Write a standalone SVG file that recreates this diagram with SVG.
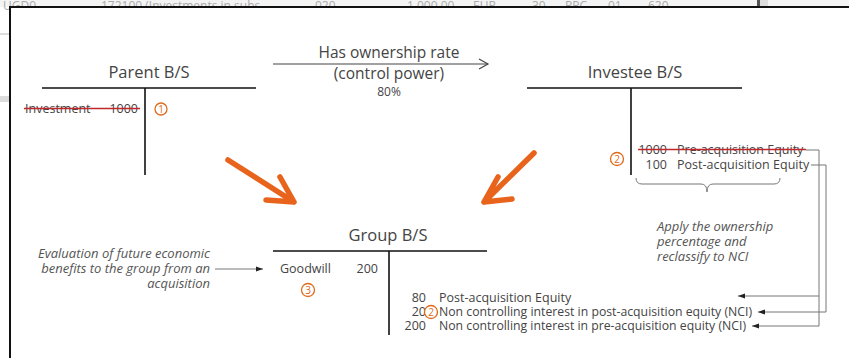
<svg xmlns="http://www.w3.org/2000/svg" width="849" height="358" viewBox="0 0 849 358">
<style>
.bg{font-family:"Open Sans","Liberation Sans",sans-serif;font-size:12px;fill:#aaa}
.t{font-family:"Open Sans","Liberation Sans",sans-serif;fill:#444}
.title{font-size:16.5px;text-anchor:middle}
.lbl{font-size:12.5px}
.it{font-family:"Open Sans","Liberation Sans",sans-serif;font-style:italic;font-size:13px;fill:#555}
.tl{stroke:#111;stroke-width:1.6;fill:none}
.cn{stroke:#777;stroke-width:1;fill:none}
.num{font-family:"Open Sans","Liberation Sans",sans-serif;font-size:10px;fill:#e06a1b;text-anchor:middle}
.circ{fill:#fff;stroke:#e06a1b;stroke-width:1.3}
.strike{stroke:#c0282d;stroke-width:1.6}
.big{stroke:#e8641c;stroke-width:5.5;fill:none;stroke-linecap:round;stroke-linejoin:round}
</style>
<defs>
<marker id="ah" markerWidth="8" markerHeight="8" refX="7" refY="4" orient="auto" markerUnits="userSpaceOnUse"><path d="M0,1.5 L7,4 L0,6.5 Z" fill="#222"/></marker>
<marker id="open" markerWidth="12" markerHeight="12" refX="10" refY="6" orient="auto" markerUnits="userSpaceOnUse"><path d="M1,1 L10,6 L1,11" fill="none" stroke="#444" stroke-width="1.2"/></marker>
</defs>
<rect width="849" height="358" fill="#fff"/>
<g id="background-screenshot">
<rect x="0" y="0" width="849" height="7" fill="#f4f4f4"/>
<text class="bg" x="3" y="10">UGD0</text>
<text class="bg" x="101" y="10">172100 (Investments in subs</text>
<text class="bg" x="315" y="10">020</text>
<text class="bg" x="407" y="10">1,000.00</text>
<text class="bg" x="473" y="10">EUR</text>
<text class="bg" x="532" y="10">30</text>
<text class="bg" x="565" y="10">PPC</text>
<text class="bg" x="608" y="10">01</text>
<text class="bg" x="648" y="10">620</text>
<rect x="757" y="0" width="3" height="7" fill="#555"/>
<rect x="760" y="0" width="8" height="7" fill="#ddd"/>
<rect x="0" y="33" width="10" height="2" fill="#ddd"/>
<rect x="0" y="96" width="10" height="6" fill="#ddd"/>
</g>
<rect x="10" y="7" width="845" height="360" fill="#fff" stroke="#111" stroke-width="2"/>

<g id="parent-bs">
<text class="t title" x="149" y="78">Parent B/S</text>
<line class="tl" x1="42" y1="88" x2="256" y2="88"/>
<line class="tl" x1="145" y1="88" x2="145" y2="175"/>
<text class="t lbl" x="25" y="113" fill="#666">Investment</text>
<text class="t lbl" x="138" y="113" text-anchor="end">1000</text>
<line class="strike" x1="24" y1="108.5" x2="140" y2="108.5"/>
<circle class="circ" cx="161" cy="109" r="6"/><text class="num" x="161" y="112.5">1</text>
</g>

<g id="investee-bs">
<text class="t title" x="635" y="78">Investee B/S</text>
<line class="tl" x1="527" y1="88" x2="742" y2="88"/>
<line class="tl" x1="631" y1="88" x2="631" y2="175"/>
<text class="t lbl" x="667" y="154" text-anchor="end">1000</text>
<text class="t lbl" x="677" y="154">Pre-acquisition Equity</text>
<line class="strike" x1="638" y1="149.5" x2="806" y2="149.5"/>
<text class="t lbl" x="667" y="169" text-anchor="end">100</text>
<text class="t lbl" x="677" y="169">Post-acquisition Equity</text>
<circle class="circ" cx="617" cy="159" r="6.5"/><text class="num" x="617" y="162.5">2</text>
</g>

<g id="ownership-label">
<text class="t" x="389" y="58" font-size="15.5" text-anchor="middle">Has ownership rate</text>
<text class="t" x="389" y="79" font-size="15.5" text-anchor="middle">(control power)</text>
<text class="t" x="389" y="96" font-size="12" text-anchor="middle">80%</text>
</g>

<g id="nci-note">
<path class="cn" d="M636,178 Q636,184 642,184 L701,184 Q707,184 707,192 Q707,184 713,184 L774,184 Q780,184 780,178"/>
<text class="it" x="657" y="231">Apply the ownership</text>
<text class="it" x="657" y="246">percentage and</text>
<text class="it" x="657" y="261">reclassify to NCI</text>
</g>

<g id="goodwill-note">
<text class="it" x="210" y="258" text-anchor="end">Evaluation of future economic</text>
<text class="it" x="210" y="273" text-anchor="end">benefits to the group from an</text>
<text class="it" x="210" y="288" text-anchor="end">acquisition</text>
</g>

<g id="group-bs">
<text class="t title" x="388" y="241">Group B/S</text>
<line class="tl" x1="273" y1="251" x2="487" y2="251"/>
<line class="tl" x1="389" y1="251" x2="389" y2="335"/>
<text class="t lbl" x="280" y="273">Goodwill</text>
<text class="t lbl" x="378" y="273" text-anchor="end">200</text>
<circle class="circ" cx="308" cy="290" r="6.5"/><text class="num" x="308" y="293.5">3</text>
<text class="t lbl" x="426" y="302" text-anchor="end">80</text>
<text class="t lbl" x="439" y="302">Post-acquisition Equity</text>
<text class="t lbl" x="426" y="316" text-anchor="end">20</text>
<text class="t lbl" x="439" y="316" textLength="313" lengthAdjust="spacingAndGlyphs">Non controlling interest in post-acquisition equity (NCI)</text>
<text class="t lbl" x="426" y="330" text-anchor="end">200</text>
<text class="t lbl" x="439" y="330" textLength="307" lengthAdjust="spacingAndGlyphs">Non controlling interest in pre-acquisition equity (NCI)</text>
<circle class="circ" cx="431" cy="312" r="6.5"/><text class="num" x="431" y="315.5">2</text>
</g>

<g id="connectors">
<line x1="273" y1="64" x2="488" y2="64" stroke="#444" stroke-width="1.2" marker-end="url(#open)"/>
<path class="big" d="M228,160 L294,202 M280,177 L294,202 L266,200"/>
<path class="big" d="M534,153 L484,202 M498,177 L484,202 L512,199"/>
<line class="cn" x1="215" y1="269" x2="263" y2="269" marker-end="url(#ah)"/>
<path class="cn" d="M806,150 L819,150 L819,326 L752,326" marker-end="url(#ah)"/>
<path class="cn" d="M819,296 L738,296" marker-end="url(#ah)"/>
<path class="cn" d="M811,165 L826,165 L826,312 L758,312" marker-end="url(#ah)"/>
</g>
</svg>
